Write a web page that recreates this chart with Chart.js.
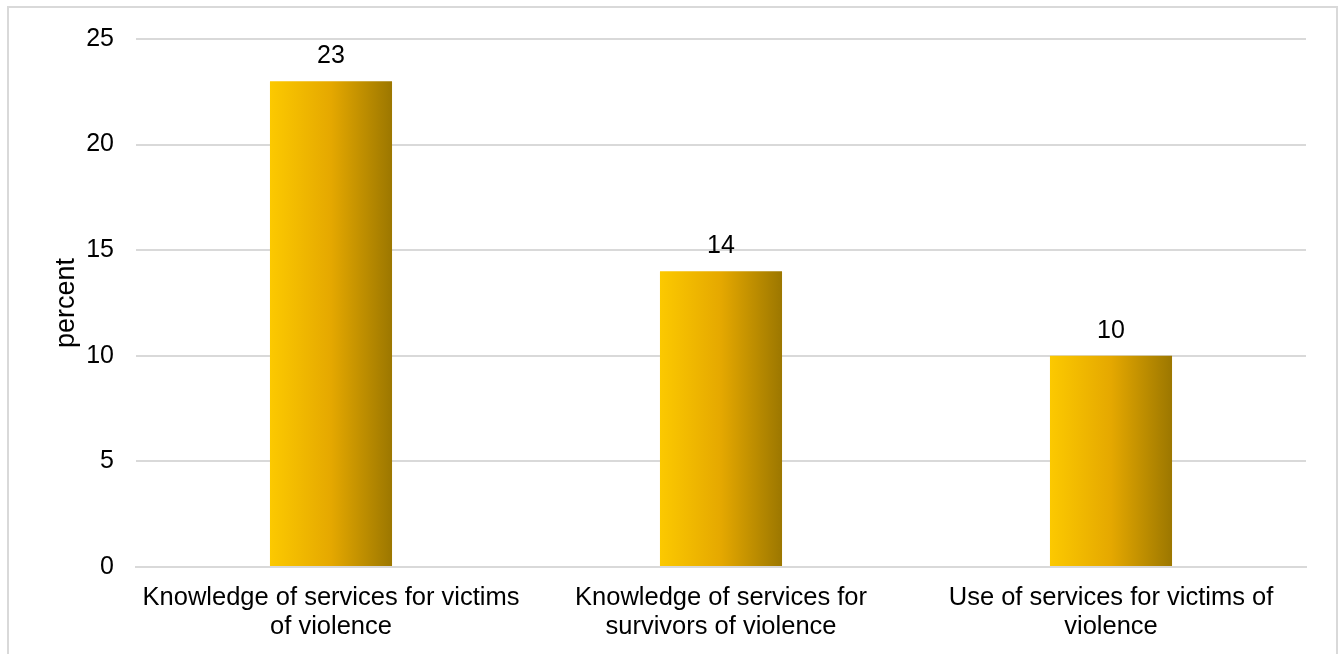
<!DOCTYPE html>
<html>
<head>
<meta charset="utf-8">
<style>
  html, body { margin: 0; padding: 0; background: #ffffff; }
  #wrap { position: relative; width: 1344px; height: 654px; }
  canvas { display: block; }
</style>
<script src="https://cdn.jsdelivr.net/npm/chart.js@4.4.1/dist/chart.umd.min.js"></script>
</head>
<body>
<div id="wrap"><canvas id="c" width="1344" height="654"></canvas></div>
<script>
const categories = [
  ["Knowledge of services for victims", "of violence"],
  ["Knowledge of services for", "survivors of violence"],
  ["Use of services for victims of", "violence"]
];
const values = [23, 14, 10];
const yTicks = [0, 5, 10, 15, 20, 25];
const yTitle = "percent";

const FONT = "'Liberation Sans', Arial, sans-serif";
const BAR_PCT = 0.313;

function barGradient(ctx) {
  const chart = ctx.chart;
  const xs = chart.scales && chart.scales.x;
  const area = chart.chartArea;
  if (!xs || !area || ctx.dataIndex === undefined) return '#E5A800';
  const center = xs.getPixelForValue(ctx.dataIndex);
  const w = (area.width / values.length) * BAR_PCT;
  if (!isFinite(center) || !isFinite(w) || w <= 0) return '#E5A800';
  const g = chart.ctx.createLinearGradient(center - w / 2, 0, center + w / 2, 0);
  g.addColorStop(0, '#FCC900');
  g.addColorStop(0.5, '#E5A800');
  g.addColorStop(1, '#9C7700');
  return g;
}

const frame = {
  id: 'frame',
  beforeDraw(chart) {
    const c = chart.ctx;
    c.save();
    c.fillStyle = '#ffffff';
    c.fillRect(0, 0, chart.width, chart.height);
    c.strokeStyle = '#d9d9d9';
    c.lineWidth = 2;
    c.strokeRect(8, 7, 1329, 700);
    c.restore();
  }
};

const valueLabels = {
  id: 'valueLabels',
  afterDatasetsDraw(chart) {
    const c = chart.ctx;
    const meta = chart.getDatasetMeta(0);
    c.save();
    c.font = "25px " + FONT;
    c.fillStyle = '#000000';
    c.textAlign = 'center';
    c.textBaseline = 'alphabetic';
    meta.data.forEach((bar, i) => {
      c.fillText(String(values[i]), bar.x, bar.y - 18);
    });
    c.restore();
  }
};

new Chart(document.getElementById('c'), {
  type: 'bar',
  data: {
    labels: categories,
    datasets: [{
      data: values,
      backgroundColor: barGradient,
      borderWidth: 0,
      categoryPercentage: 1,
      barPercentage: BAR_PCT
    }]
  },
  options: {
    responsive: false,
    animation: false,
    devicePixelRatio: 1,
    layout: { padding: { left: 0, top: 39, right: 38, bottom: 0 } },
    plugins: { legend: { display: false }, tooltip: { enabled: false } },
    scales: {
      x: {
        grid: { display: false, drawTicks: false },
        border: { display: true, color: '#d9d9d9', width: 2 },
        ticks: {
          color: '#000000',
          font: { family: FONT, size: 25.5, lineHeight: 1.14 },
          maxRotation: 0, minRotation: 0, autoSkip: false,
          padding: 16
        },
        afterFit(scale) { scale.height = 87; }
      },
      y: {
        min: 0, max: 25,
        afterBuildTicks(scale) { scale.ticks = yTicks.map(v => ({ value: v })); },
        grid: { color: '#d9d9d9', lineWidth: 2, drawTicks: false },
        border: { display: false },
        ticks: {
          color: '#000000',
          font: { family: FONT, size: 25 },
          padding: 22
        },
        title: {
          display: true,
          text: yTitle,
          color: '#000000',
          font: { family: FONT, size: 27 },
          padding: { top: 50, bottom: 0 }
        },
        afterFit(scale) { scale.width = 136; }
      }
    }
  },
  plugins: [frame, valueLabels]
});
</script>
</body>
</html>
